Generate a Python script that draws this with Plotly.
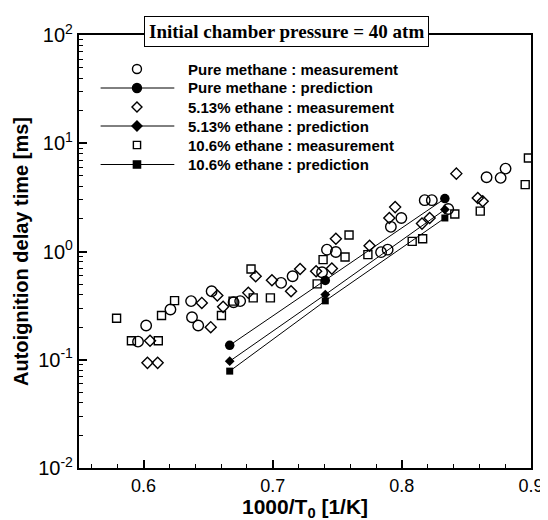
import plotly.graph_objects as go

# ---------------- data ----------------
# Pure methane : measurement
ch4_meas_x = [0.5957, 0.6020, 0.6208, 0.6368, 0.6375, 0.6423, 0.6527, 0.6697, 0.6748,
              0.7065, 0.7154, 0.7382, 0.7420, 0.7489, 0.7839, 0.7890, 0.7915, 0.7996,
              0.8177, 0.8232, 0.8359, 0.8656, 0.8765, 0.8803]
ch4_meas_y = [0.147, 0.207, 0.291, 0.348, 0.247, 0.207, 0.430, 0.340, 0.348,
              0.513, 0.591, 0.644, 1.04, 0.99, 0.986, 1.04, 1.69, 2.04,
              2.98, 2.98, 2.47, 4.85, 4.79, 5.83]

# 5.13% ethane : measurement
e5_meas_x = [0.6030, 0.6109, 0.6050, 0.6451, 0.6520, 0.6571, 0.6616, 0.6811, 0.6868,
             0.6994, 0.7142, 0.7212, 0.7336, 0.7458, 0.7489, 0.7750, 0.7903, 0.7948,
             0.8156, 0.8215, 0.8422, 0.8588, 0.8626]
e5_meas_y = [0.0936, 0.0936, 0.150, 0.335, 0.200, 0.392, 0.308, 0.415, 0.591,
             0.543, 0.430, 0.690, 0.658, 0.695, 1.31, 1.13, 2.04, 2.57,
             1.81, 2.04, 5.24, 3.12, 2.91]

# 10.6% ethane : measurement
e10_meas_x = [0.5791, 0.5906, 0.6114, 0.6139, 0.6240, 0.6603, 0.6693, 0.6832, 0.6849,
              0.6982, 0.7344, 0.7390, 0.7560, 0.7591, 0.7737, 0.8080, 0.8161, 0.8410,
              0.8607, 0.8955, 0.8980]
e10_meas_y = [0.242, 0.150, 0.150, 0.256, 0.352, 0.256, 0.348, 0.690, 0.373,
              0.373, 0.502, 0.841, 0.891, 1.42, 0.935, 1.24, 1.31, 2.22,
              2.36, 4.15, 7.31]

# predictions
pred_x = [0.6667, 0.7407, 0.8333]
ch4_pred_y = [0.136, 0.54, 3.08]
e5_pred_y = [0.097, 0.40, 2.44]
e10_pred_y = [0.0785, 0.35, 2.04]

names = ["Pure methane : measurement", "Pure methane : prediction",
         "5.13% ethane : measurement", "5.13% ethane : prediction",
         "10.6% ethane : measurement", "10.6% ethane : prediction"]
legend_symbols = ["circle", "circle", "diamond", "diamond", "square", "square"]
legend_filled = [False, True, False, True, False, True]

x_tickvals = [0.6, 0.7, 0.8, 0.9]
x_ticktext = ["0.6", "0.7", "0.8", "0.9"]
y_tickvals = [0.01, 0.1, 1, 10, 100]
y_ticktext = ["10<sup>-2</sup>", "10<sup>-1</sup>", "10<sup>0</sup>", "10<sup>1</sup>", "10<sup>2</sup>"]

x_title = "1000/T<sub>0</sub> [1/K]"
y_title = "Autoignition delay time [ms]"
box_title = "Initial chamber pressure = 40 atm"

# ---------------- layout constants ----------------
W, H = 548, 520
ML, MR, MT, MB = 71, 17, 27, 60
PW, PH = W - ML - MR, H - MT - MB

def px_x(X):
    return (X - ML) / PW

def px_y(Y):
    return 1 - (Y - MT) / PH

# ---------------- figure ----------------
fig = go.Figure()

def meas(x, y, name, symbol, size):
    fig.add_trace(go.Scatter(
        x=x, y=y, mode="markers", name=name, showlegend=False,
        marker=dict(symbol=symbol, size=size, color="black",
                    line=dict(color="black", width=1.4)),
    ))

def pred(x, y, name, symbol, size):
    fig.add_trace(go.Scatter(
        x=x, y=y, mode="lines+markers", name=name, showlegend=False,
        line=dict(color="black", width=1),
        marker=dict(symbol=symbol, size=size, color="black"),
    ))

meas(ch4_meas_x, ch4_meas_y, names[0], "circle-open", 10.5)
pred(pred_x, ch4_pred_y, names[1], "circle", 9.5)
meas(e5_meas_x, e5_meas_y, names[2], "diamond-open", 8.5)
pred(pred_x, e5_pred_y, names[3], "diamond", 7.5)
meas(e10_meas_x, e10_meas_y, names[4], "square-open", 8)
pred(pred_x, e10_pred_y, names[5], "square", 7)

font_sans = "Liberation Sans, Arial, sans-serif"

# ---------------- hand-drawn legend ----------------
shapes = []
annotations = []
row_Y = [61, 80, 99, 118, 137, 156.5]
mark_X = 130
line_X0, line_X1 = 93, 168
text_X = 180
for i, name in enumerate(names):
    yy = px_y(row_Y[i])
    xx = px_x(mark_X)
    filled = legend_filled[i]
    fill = "black" if filled else "white"
    if filled:
        shapes.append(dict(type="line", xref="paper", yref="paper",
                           x0=px_x(line_X0), x1=px_x(line_X1), y0=yy, y1=yy,
                           line=dict(color="black", width=1)))
    sym = legend_symbols[i]
    common = dict(xref="paper", yref="paper", xsizemode="pixel", ysizemode="pixel",
                  xanchor=xx, yanchor=yy, fillcolor=fill,
                  line=dict(color="black", width=1.4))
    if sym == "circle":
        r = 4.5
        shapes.append(dict(type="circle", x0=-r, x1=r, y0=-r, y1=r, **common))
    elif sym == "square":
        r = 3.6
        shapes.append(dict(type="rect", x0=-r, x1=r, y0=-r, y1=r, **common))
    else:
        r = 5
        shapes.append(dict(type="path", path=f"M0,{-r}L{r},0L0,{r}L{-r},0Z", **common))
    annotations.append(dict(
        x=px_x(text_X), y=yy, xref="paper", yref="paper", xanchor="left", yanchor="middle",
        text=f"<b>{name}</b>", showarrow=False,
        font=dict(family=font_sans, size=15, color="black"),
    ))

# boxed title straddling the top frame
annotations.append(dict(
    x=px_x(282), y=px_y(23.5), xref="paper", yref="paper", xanchor="center", yanchor="middle",
    text=f"<b>{box_title}</b>", showarrow=False,
    font=dict(family="Liberation Serif, Times New Roman, serif", size=19, color="black"),
    bgcolor="white", bordercolor="black", borderwidth=1, borderpad=4,
))

# x-axis title (kept inside the canvas)
annotations.append(dict(
    x=0.5, y=0, xref="paper", yref="paper", xanchor="center", yanchor="bottom",
    yshift=-(MB - 5.5),
    text=f"<b>{x_title}</b>", showarrow=False,
    font=dict(family=font_sans, size=21, color="black"),
))

fig.update_layout(
    width=W, height=H,
    margin=dict(l=ML, r=MR, t=MT, b=MB),
    paper_bgcolor="white", plot_bgcolor="white",
    font=dict(family=font_sans, color="black"),
    showlegend=False,
    xaxis=dict(
        range=[0.55, 0.9], tickvals=x_tickvals, ticktext=x_ticktext,
        ticks="inside", ticklen=8, tickwidth=1.5, tickcolor="black",
        minor=dict(ticks="inside", ticklen=4, tickwidth=1, tickcolor="black",
                   dtick=0.02, tick0=0.6, showgrid=False),
        showline=True, linewidth=2.2, linecolor="black", mirror=True,
        showgrid=False, zeroline=False,
        tickfont=dict(family=font_sans, size=18, color="black"),
    ),
    yaxis=dict(
        type="log", range=[-2, 2], tickvals=y_tickvals, ticktext=y_ticktext,
        ticks="inside", ticklen=8, tickwidth=1.5, tickcolor="black",
        minor=dict(ticks="inside", ticklen=4, tickwidth=1, tickcolor="black",
                   dtick="D1", showgrid=False),
        showline=True, linewidth=2.2, linecolor="black", mirror=True,
        showgrid=False, zeroline=False,
        tickfont=dict(family=font_sans, size=20, color="black"),
        title=dict(text=f"<b>{y_title}</b>", standoff=4,
                   font=dict(family=font_sans, size=20, color="black")),
    ),
    shapes=shapes,
    annotations=annotations,
)

fig.write_html("out.html")
